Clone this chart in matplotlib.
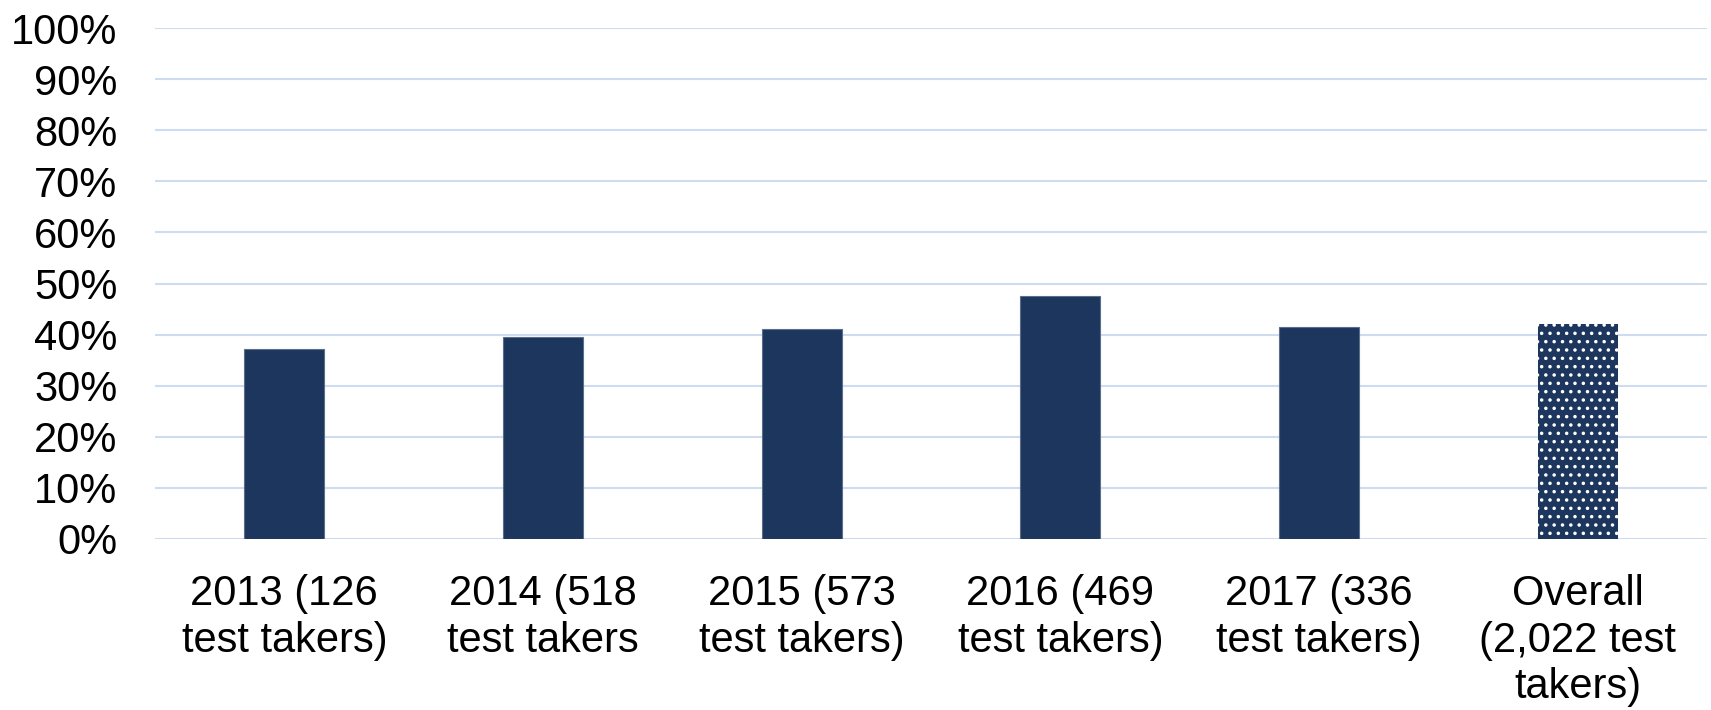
import matplotlib
matplotlib.use("Agg")
import matplotlib.pyplot as plt
from matplotlib.ticker import FuncFormatter

categories = ["2013 (126\ntest takers)", "2014 (518\ntest takers", "2015 (573\ntest takers)",
              "2016 (469\ntest takers)", "2017 (336\ntest takers)", "Overall\n(2,022 test\ntakers)"]
values = [37.2, 39.6, 41.0, 47.6, 41.4, 42.1]
yticks = [0, 10, 20, 30, 40, 50, 60, 70, 80, 90, 100]

plt.rcParams['font.family'] = ['Liberation Sans', 'DejaVu Sans']
plt.rcParams['hatch.linewidth'] = 1.3

fig = plt.figure(figsize=(17.11, 7.10), dpi=100)
ax = fig.add_axes([155/1711, 1 - 539/710, (1707-155)/1711, (539-28)/710])

navy = "#1C365E"
x = list(range(len(categories)))
bars = ax.bar(x[:-1], values[:-1], width=0.31, color=navy, edgecolor="#5a6e8c", linewidth=0.8, zorder=3)
ob = ax.bar(x[-1:], values[-1:], width=0.31, color=navy, edgecolor="white", linewidth=0, hatch="..", zorder=3)

ax.set_xlim(-0.5, len(categories) - 0.5)
ax.set_ylim(0, 100)
ax.set_yticks(yticks)
ax.yaxis.set_major_formatter(FuncFormatter(lambda v, p: f"{int(v)}%"))
ax.set_xticks(x)
ax.set_xticklabels(categories, linespacing=1.22)
ax.tick_params(axis='both', length=0, labelsize=30, colors='black')
ax.tick_params(axis='y', pad=27)
ax.tick_params(axis='x', pad=25)
ax.grid(axis='y', color="#CFDBEE", linewidth=1.5, zorder=0)
ax.set_axisbelow(True)
for s in ax.spines.values():
    s.set_visible(False)

fig.savefig("out.png", dpi=100)
